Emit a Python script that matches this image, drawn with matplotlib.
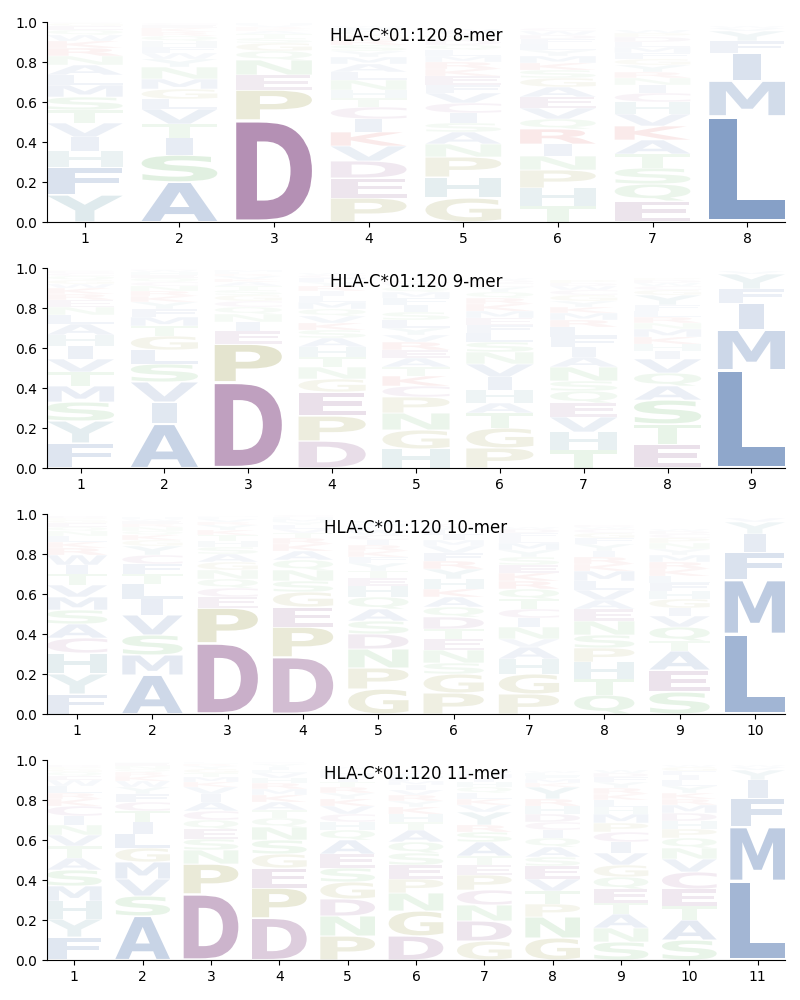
import matplotlib
matplotlib.use("Agg")
import matplotlib.pyplot as plt
from matplotlib.textpath import TextPath
from matplotlib.font_manager import FontProperties
from matplotlib.patches import PathPatch
from matplotlib.transforms import Affine2D

allele = "HLA-C*01:120"

# letters are listed bottom -> top, values are percent of the column
letters_8 = ["YFHIVTSMLANRKWQEGD", "ASITVLGMNYWFHQRKEC", "DPENQGSTAKRVH",
             "PEDVKICTHNLAMYSRGQFW", "GHPNASICVFEKRMLQDTYW", "THPNIRQVEAGSKMYLFDWC",
             "EQSTAKVHCINRYGFMLDPW", "LMIFYVW"]
values_8 = [[13.5, 14, 8, 7, 7, 6.5, 6.5, 6, 5, 5, 4.5, 4, 3.5, 3, 2.5, 2, 1.5, 0.5],
            [20, 13.5, 8.5, 7, 7.5, 5, 5, 5, 6, 4, 3, 3, 3, 2.5, 2, 2, 1.5, 1],
            [51, 15, 7.5, 7.5, 4.5, 4, 2.5, 2, 1.5, 1, 1, 1, 1],
            [12, 10, 8.5, 7.5, 7, 6.5, 6, 4.5, 4, 5, 4, 4, 3.5, 3, 3, 2.5, 2.5, 2, 1.5, 1],
            [12, 10.5, 10, 6.5, 6, 4.5, 5, 5, 5, 4, 4.5, 3.5, 3.5, 3, 3, 2.5, 2.5, 2, 2, 1.5],
            [8, 9, 9, 7, 6, 7.5, 5, 5.5, 5.5, 5, 4.5, 4, 3.5, 3.5, 3, 3, 2.5, 2, 2, 1.5],
            [10.5, 8.5, 8, 7, 7, 7, 6, 6, 4.5, 4, 3.5, 3, 3.5, 3, 3, 3, 2.5, 2.5, 2, 1.5],
            [53, 17.5, 14, 6, 5, 1.5, 1]]

letters_9 = ["FYSMTVIHALNERKWGQCDP", "AIVSLGTMFYKRNCQEHWD", "DPEINQCGSTAKVRLM",
             "DPEGNTHASKVQMLIRYFCW", "HGNPCKTAERVYLSIFMQWD", "PGTAHIVNSLFEMKRQYCDW",
             "THVEQSNAIFLRMKYGCWDP", "ETSAQVIHKMNRLFYGCWDP", "LMIFYV"]
values_9 = [[12.5, 11, 9.5, 8, 7, 6.5, 6.5, 5.5, 5.5, 4.5, 4, 3.5, 3, 3, 2, 2, 2, 1.5, 1, 0.5],
            [22, 11, 10, 9, 7, 7, 5, 4.5, 4, 3.5, 3, 2.5, 2.5, 2, 2, 1.5, 1.5, 1, 0.5],
            [43, 19, 6.5, 4.5, 4, 3.5, 3, 3, 2.5, 2, 2, 1.5, 1.5, 1, 1, 1],
            [13.5, 12.5, 12, 6.5, 6, 5, 5, 4.5, 4, 3.5, 3.5, 3.5, 3.5, 3, 2.5, 2.5, 2, 2, 1.5, 1],
            [9.5, 9.5, 8.5, 8, 5.5, 5, 4.5, 4.5, 4, 4, 3.5, 3.5, 4, 4, 3.5, 3.5, 3, 2.5, 1.5, 1.5],
            [10, 10, 7.5, 5, 6.5, 6.5, 6.5, 6, 5, 4.5, 4, 3.5, 3.5, 3.5, 3, 3, 2.5, 2, 1.5, 1],
            [9, 9, 7.5, 7, 6, 5, 7, 5, 5, 5, 5, 3.5, 3.5, 3, 3, 3, 2.5, 2, 1.5, 1.5],
            [12, 10, 12, 7, 6.5, 7, 4, 3.5, 3.5, 4, 3, 3, 3, 3, 5, 2.5, 2, 1.5, 1.5, 1],
            [49, 20, 13.5, 7, 7.5, 1.5]]

letters_10 = ["FYHCASMVTIWRKLNQEGPD", "AMSVILTFCYGKQNREWH", "DPECQNGASHTKYRVLM",
              "DPEGSNQAKRTVLYMHC", "GPNDSAQHETYFKRICWLMV", "PGSNETDQAKHYRFVMILWC",
              "PGHAVNICTQRKESYMLFDW", "QTHPSNEAVLMKRIYFGCWD", "SEATQVIGHFLKRMYNPCDW",
              "LMFIYV"]
values_10 = [[10, 10, 10.5, 7.5, 7, 7, 6.5, 6, 5.5, 4.5, 5, 3.5, 3, 3, 2.5, 2, 2, 1.5, 1, 1],
             [19.5, 10, 10, 10, 8, 7.5, 5, 5, 4.5, 4.5, 3, 2.5, 2, 2, 1.5, 1.5, 1, 1],
             [35.5, 17.5, 5.5, 4.5, 4.5, 4.5, 4, 4, 3.5, 3, 3, 2.5, 2.5, 1.5, 1.5, 1, 0.5],
             [28.5, 15, 10, 7.5, 5.5, 5.5, 5, 4.5, 3.5, 3, 2.5, 2, 2, 1.5, 1.5, 1, 1],
             [12.5, 10.5, 9.5, 7.5, 6.5, 6, 6, 5.5, 4, 3.5, 4, 3, 3, 3, 2.5, 2.5, 2, 2, 1.5, 1.5],
             [10.5, 9.5, 5.5, 6.5, 5.5, 5, 6, 5, 5, 4, 5, 5, 4, 4, 3.5, 3, 2.5, 2.5, 1.5, 1.5],
             [10, 10, 7.5, 6, 4, 6, 4.5, 4.5, 5, 5, 4, 4, 4, 4, 3.5, 3.5, 2.5, 2.5, 2, 1],
             [9.5, 8, 8.5, 7, 6.5, 7, 6, 4.5, 5, 4.5, 5, 3.5, 3.5, 3, 3.5, 3, 2.5, 2, 1, 1],
             [11, 11, 9.5, 5, 7, 5.5, 4, 4.5, 4, 4, 3.5, 3.5, 3.5, 3.5, 3, 3, 2.5, 2, 1.5, 1],
             [40, 27, 14, 9, 6, 2]]

letters_11 = ["FYHMSATVNICKRLWEQGPD", "ASVMGLITCFYWKRQNEH", "DPNSEQCAIVKMTGYRHL",
              "DPEGSNQTAKMRHVLIYCF", "PNDGSEAQHCVKYRTIMLFW", "DGNPESQATHKYRVIMFLCW",
              "GDNCPETASRYVKLQHIMFW", "GNPTVESAQICDHRYKMFLW", "SNATEQGVICPMHLKRYFDW",
              "SATECVNQPHDMRKYLIFGW", "LMFIYVW"]
values_11 = [[11.5, 9, 9, 7.5, 8, 6, 6, 5.5, 5, 4.5, 5, 3.5, 3, 3.5, 3, 2, 2, 1.5, 1, 1],
             [22, 10, 8.5, 8.5, 7, 7, 6, 5.5, 4.5, 4, 3.5, 3, 2.5, 2, 1.5, 1.5, 1.5, 0.5],
             [33, 15, 7, 5.5, 5, 4.5, 4.5, 4.5, 4, 3.5, 2.5, 2.5, 2, 2, 1.5, 1, 0.5, 0.5],
             [21, 15, 10, 7, 7, 6.5, 4.5, 4, 4, 3.5, 3, 3, 2.5, 2.5, 1.5, 1.5, 1.5, 0.5, 0.5],
             [12, 10, 8.5, 8.5, 7, 7, 7, 5, 4, 4, 4, 3.5, 3, 3, 2.5, 2, 2, 1.5, 1, 1],
             [12, 12.5, 9, 7, 7, 6, 5.5, 6, 4, 4, 3.5, 3, 3, 2.5, 2.5, 2, 2, 1.5, 1.5, 1],
             [9.5, 10, 8, 7.5, 7.5, 5, 4.5, 7, 5, 3.5, 6.5, 3.5, 3, 3, 3, 2.5, 2, 2, 1.5, 1],
             [11, 10.5, 6.5, 6.5, 6, 6.5, 4.5, 5, 4.5, 4, 4, 4, 4, 3.5, 6, 2, 2, 1.5, 1.5, 1],
             [9, 7, 7, 5.5, 7, 6, 6, 6, 5.5, 5, 4.5, 4.5, 3.5, 3.5, 3, 3, 3, 2.5, 2, 1.5],
             [10, 10, 7, 8.5, 8.5, 6.5, 5.5, 5, 4.5, 4, 4, 4, 3, 3, 3.5, 3, 2.5, 2, 2, 1],
             [39.5, 27, 14.5, 9, 5, 1.5, 1]]

panels = [("8-mer", letters_8, values_8), ("9-mer", letters_9, values_9),
          ("10-mer", letters_10, values_10), ("11-mer", letters_11, values_11)]

# colour groups
groups = {"DE": "#884f88", "C": "#a0609a", "LIMVAFW": "#466eaa", "PG": "#9a9a46",
          "STNQ": "#64b464", "HY": "#5592a0", "KR": "#d23c3c"}
color_of = {}
for aa, col in groups.items():
    for c in aa:
        color_of[c] = col

fp = FontProperties(family="DejaVu Sans", weight="bold")
ref_box = TextPath((0, 0), "E", size=1, prop=fp).get_extents()
glyph_w = 0.8
vpad = 0.05


def draw_glyph(ax, c, x, y0, h, color, alpha):
    path = TextPath((0, 0), c, size=1, prop=fp)
    bb = path.get_extents()
    hs = min(glyph_w / bb.width, glyph_w / ref_box.width)
    shift = (glyph_w - hs * bb.width) / 2
    box_h = h * (1 - vpad)
    vs = box_h / bb.height
    tr = (Affine2D().translate(-bb.x0, -bb.y0).scale(hs, vs)
          .translate(x - glyph_w / 2 + shift, y0 + h * vpad / 2))
    ax.add_patch(PathPatch(tr.transform_path(path), facecolor=color,
                           edgecolor="none", alpha=alpha))


fig = plt.figure(figsize=(8, 10), dpi=100)
bottoms = [0.778, 0.532, 0.286, 0.040]

for (name, letters, values), bot in zip(panels, bottoms):
    ax = fig.add_axes([0.05875, bot, 0.9225, 0.2])
    n = len(letters)
    for i in range(n):
        floor = 0.0
        for c, v in zip(letters[i], values[i]):
            h = v / 100.0
            # faint letters for low probability
            draw_glyph(ax, c, i + 1, floor, h, color_of[c], min(1.0, 1.15 * h ** 0.9))
            floor += h
    ax.set_xlim(0.6, n + 0.4)
    ax.set_ylim(0, 1)
    ax.set_xticks(range(1, n + 1))
    ax.set_yticks([0, 0.2, 0.4, 0.6, 0.8, 1.0])
    ax.spines["top"].set_visible(False)
    ax.spines["right"].set_visible(False)
    ax.text(0.5, 0.93, allele + " " + name, transform=ax.transAxes,
            ha="center", va="center", fontsize=12)

fig.savefig("out.png", dpi=100)
